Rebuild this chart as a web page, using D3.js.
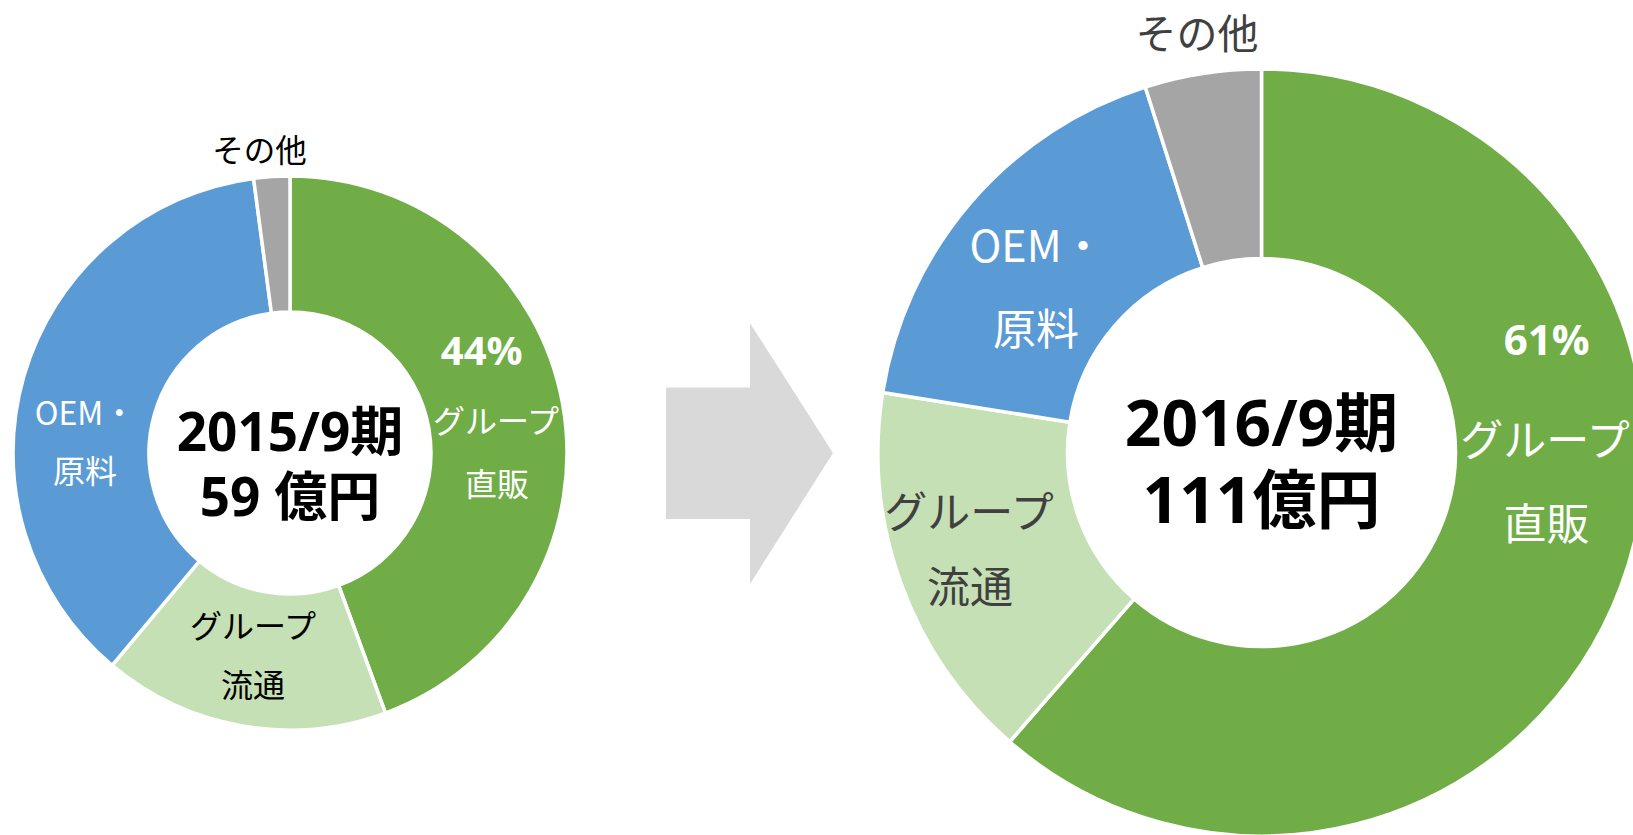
<!DOCTYPE html>
<html>
<head>
<meta charset="utf-8">
<script src="https://cdn.jsdelivr.net/npm/d3@7"></script>
<style>
  html, body { margin: 0; padding: 0; background: #ffffff; }
  svg { display: block; }
  text { font-family: "Noto Sans CJK JP", "Noto Sans", sans-serif; }
  text.num { font-family: "Open Sans", "Noto Sans CJK JP", sans-serif; }
</style>
</head>
<body>
<svg id="chart" width="1633" height="835"></svg>
<script>
// ---- data ----
const categories = ["グループ直販", "グループ流通", "OEM・原料", "その他"];
const labelLines = [["グループ", "直販"], ["グループ", "流通"], ["OEM・", "原料"], ["その他"]];
const periods = ["2015/9期", "2016/9期"];
const totals = [59, 111];           // 億円
const totalSeparators = [" ", ""];
const share2015 = [44.4, 16.7, 36.8, 2.1];   // %
const share2016 = [61.4, 16.1, 17.6, 4.9];   // %
const percentShown = [0];            // slice indices that show a percent label

// ---- styles / layout ----
const colors = ["#70ad47", "#c5e0b4", "#5b9bd5", "#a5a5a5"];
const charts = [
  { values: share2015, period: periods[0], total: totals[0], sep: totalSeparators[0],
    cx: 290, cy: 453, rOut: 277, rIn: 141,
    font: 32, pctFont: 40, centerFont: 53, centerBase: [-2.4, 62.6], darkText: "#000000", outerFont: 31.5,
    offsets: [
      { pct: [-14.1, -51.4], lines: [[0.2, 2.6], [1.2, 65.3]] },
      { lines: [[-1.1, -34.9], [-1.1, 24.6]] },
      { lines: [[-4.3, 16], [-4.3, 74.5]] },
      { lines: [[-16.7, -96.5]] }
    ] },
  { values: share2016, period: periods[1], total: totals[1], sep: totalSeparators[1],
    cx: 1261.5, cy: 452.5, rOut: 383.5, rIn: 194,
    font: 43, pctFont: 42, centerFont: 64, centerBase: [-6.5, 70.5], darkText: "#404040", outerFont: 41,
    offsets: [
      { pct: [14.7, -199.1], lines: [[13.1, -117.2], [14.6, -32.7]] },
      { lines: [[-21.1, -41.7], [-20.1, 32.8]] },
      { lines: [[-5.5, -20.8], [-6.5, 61.7]] },
      { lines: [[-20.2, -136]] }
    ] }
];
const textColors = (c) => ["#ffffff", c.darkText, "#ffffff", c.darkText];

const svg = d3.select("#chart");

// arrow between the two donuts
svg.append("polygon")
  .attr("points", [[666, 387.5], [750, 387.5], [750, 323], [833, 453], [750, 584], [750, 519], [666, 519]].map(p => p.join(",")).join(" "))
  .attr("fill", "#d9d9d9");

const pie = d3.pie().sort(null).value(d => d);

charts.forEach(c => {
  const g = svg.append("g").attr("transform", `translate(${c.cx},${c.cy})`);
  const arc = d3.arc().innerRadius(c.rIn).outerRadius(c.rOut);
  const arcs = pie(c.values);
  const total = d3.sum(c.values);

  g.selectAll("path.slice").data(arcs).join("path")
    .attr("class", "slice")
    .attr("d", arc)
    .attr("fill", (d, i) => colors[i])
    .attr("stroke", "#ffffff")
    .attr("stroke-width", 3.5)
    .attr("stroke-linejoin", "miter");

  const tc = textColors(c);
  arcs.forEach((a, i) => {
    const [x0, y0] = arc.centroid(a);
    const off = c.offsets[i];
    if (percentShown.includes(i) && off.pct) {
      g.append("text")
        .attr("class", "num")
        .attr("x", x0 + off.pct[0]).attr("y", y0 + off.pct[1])
        .attr("text-anchor", "middle")
        .attr("font-size", c.pctFont).attr("font-weight", "bold")
        .attr("fill", tc[i])
        .text(Math.round(a.data / total * 100) + "%");
    }
    const t = g.append("text")
      .attr("text-anchor", "middle").attr("dominant-baseline", "central")
      .attr("font-size", i === 3 ? c.outerFont : c.font)
      .attr("fill", tc[i]);
    labelLines[i].forEach((line, j) => {
      const o = off.lines[j];
      t.append("tspan")
        .attr("x", x0 + o[0]).attr("y", y0 + o[1])
        .attr("dominant-baseline", "central")
        .text(line);
    });
  });

  // center text (two lines in one text element)
  const ct = g.append("text")
    .attr("class", "num")
    .attr("text-anchor", "middle")
    .attr("font-size", c.centerFont).attr("font-weight", "bold").attr("fill", "#000");
  ct.append("tspan").attr("x", 0).attr("y", c.centerBase[0]).text(c.period);
  ct.append("tspan").attr("x", 0).attr("y", c.centerBase[1]).text(c.total + c.sep + "億円");
});
</script>
</body>
</html>
